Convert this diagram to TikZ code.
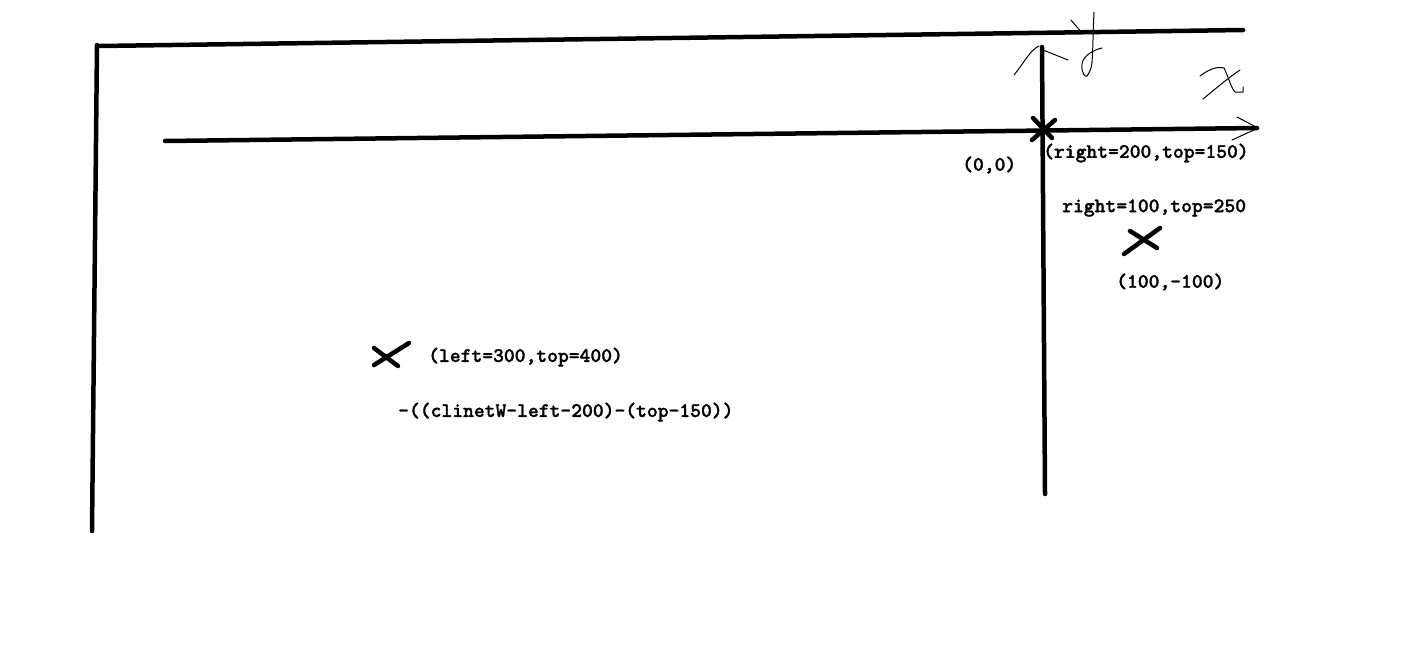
\documentclass[tikz,border=0pt]{standalone}
\usepackage{fontspec}
\newfontfamily\codefont{lmmonolt10-bold.otf}[BoldFont=lmmonolt10-bold.otf,BoldFeatures={FakeBold=1.4}]
\begin{document}
\begin{tikzpicture}[x=1pt,y=-1pt,
  thick line/.style={line width=4.5pt,line cap=round},
  mark cross/.style={line width=4.5pt,line cap=round},
  pen/.style={line width=1pt,line cap=round,line join=round},
  lbl/.style={font=\codefont\bfseries\fontsize{20.6}{22}\selectfont,inner sep=0pt,anchor=west}]
\useasboundingbox[fill=white] (0,0) rectangle (1426,665);

% outer frame (top and left edges)
\draw[thick line] (100,46) -- (1243,30);
\draw[thick line] (97,45) -- (92,531);

% axes through the origin
\draw[thick line] (165,141) -- (1257,128);
\draw[thick line] (1042,47) -- (1045,494);

% hand-drawn arrowheads
\draw[pen] (1014,75) .. controls (1024,63) and (1030,50) .. (1039,46);
\draw[pen] (1043,50) -- (1068,60);
\draw[pen] (1237,117) -- (1256,127);
\draw[pen] (1256,129) -- (1232,140);

% handwritten axis letters
\draw[pen] (1071,20) -- (1083,34);
\draw[pen] (1094,12) .. controls (1093,30) and (1093,50) .. (1092,62);
\draw[pen] (1102,48) .. controls (1093,50) and (1083,56) .. (1082,64)
  .. controls (1081,72) and (1085,78) .. (1087,76)
  .. controls (1090,72) and (1092,66) .. (1092,62);
\draw[pen] (1200,76) .. controls (1208,70) and (1216,66) .. (1224,68)
  .. controls (1228,76) and (1231,88) .. (1235,92) -- (1243,92) -- (1243,87);
\draw[pen] (1240,70) .. controls (1228,78) and (1214,90) .. (1203,99);

% crosses
\draw[mark cross] (1033,118) -- (1052,138);
\draw[mark cross] (1055,120) -- (1032,140);
\draw[mark cross] (1130,231) -- (1157,248);
\draw[mark cross] (1160,228) -- (1124,254);
\draw[mark cross] (374,348) -- (398,366);
\draw[mark cross] (409,343) -- (374,365);

% labels
\node[lbl] (origin) at (1043,153) {(right=200,top=150)};
\node[lbl] (zero) at (962,165) {(0,0)};
\node[lbl] (ptA) at (1062,208) {right=100,top=250};
\node[lbl] (ptAc) at (1116,282) {(100,-100)};
\node[lbl] (ptB) at (428,357) {(left=300,top=400)};
\node[lbl] (ptBc) at (398,412) {-((clinetW-left-200)-(top-150))};
\end{tikzpicture}
\end{document}
